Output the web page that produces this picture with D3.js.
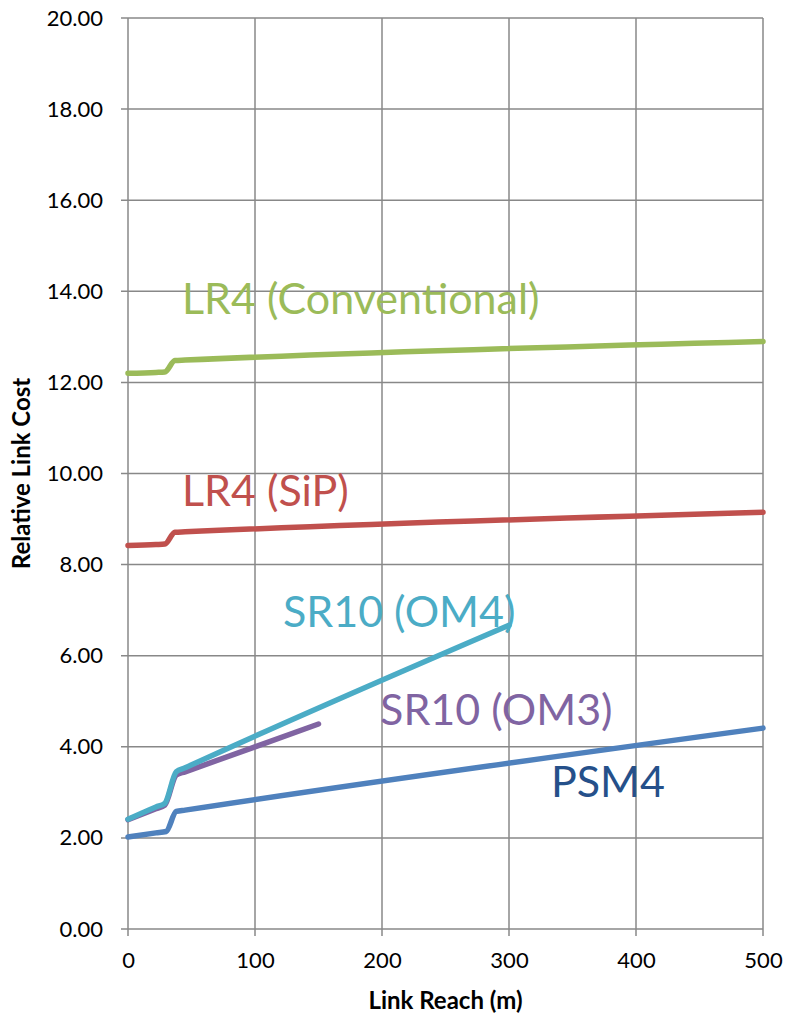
<!DOCTYPE html>
<html>
<head>
<meta charset="utf-8">
<script src="https://cdn.jsdelivr.net/npm/d3@7/dist/d3.min.js"></script>
<style>
  html, body { margin: 0; padding: 0; background: #fff; }
  svg { display: block; }
  text { font-family: Lato, "Open Sans", sans-serif; }
</style>
</head>
<body>
<svg id="chart" width="786" height="1016"></svg>
<script>
// ---- data ----
const xTicks = [0, 100, 200, 300, 400, 500];
const yTicks = [0, 2, 4, 6, 8, 10, 12, 14, 16, 18, 20];
const seriesNames = ["LR4 (Conventional)", "LR4 (SiP)", "SR10 (OM4)", "SR10 (OM3)", "PSM4"];
const lr4ConvReach = [0, 22, 29, 37, 45, 500];
const lr4ConvCost  = [12.20, 12.22, 12.23, 12.48, 12.49, 12.90];
const lr4SiPReach  = [0, 22, 29, 37, 45, 500];
const lr4SiPCost   = [8.42, 8.44, 8.45, 8.71, 8.72, 9.15];
const sr10OM4Reach = [0, 22, 29, 38, 45, 300];
const sr10OM4Cost  = [2.41, 2.68, 2.76, 3.45, 3.54, 6.67];
const sr10OM3Reach = [0, 22, 29, 38, 45, 150];
const sr10OM3Cost  = [2.40, 2.64, 2.72, 3.38, 3.45, 4.50];
const psm4Reach    = [0, 22, 30, 38, 45, 500];
const psm4Cost     = [2.02, 2.11, 2.14, 2.58, 2.61, 4.41];

const lineColors  = ["#9BBB59", "#C0504D", "#4BACC6", "#8064A2", "#4F81BD"];
const labelColors = ["#9BBB59", "#C0504D", "#4BACC6", "#8064A2", "#25508A"];
const drawOrder = [4, 3, 2, 1, 0];

const series = [
  {reach: lr4ConvReach, cost: lr4ConvCost},
  {reach: lr4SiPReach, cost: lr4SiPCost},
  {reach: sr10OM4Reach, cost: sr10OM4Cost},
  {reach: sr10OM3Reach, cost: sr10OM3Cost},
  {reach: psm4Reach, cost: psm4Cost}
].map((s, i) => ({name: seriesNames[i], color: lineColors[i],
  points: s.reach.map((r, j) => ({x: r, y: s.cost[j]}))}));

// label anchor in data units (x = reach, y = cost at baseline)
const labelPos = [
  {x: 42.5, y: 13.50},
  {x: 42.5, y: 9.29},
  {x: 122, y: 6.63},
  {x: 198.5, y: 4.47},
  {x: 333, y: 2.89}
];

// ---- layout ----
const svg = d3.select("#chart");
const mLeft = 128, mRight = 763, mTop = 18, mBottom = 929;
const x = d3.scaleLinear().domain([0, 500]).range([mLeft, mRight]);
const y = d3.scaleLinear().domain([0, 20]).range([mBottom, mTop]);
const gridColor = "#888888";

// gridlines
const g = svg.append("g");
g.selectAll("line.h").data(yTicks).join("line")
  .attr("x1", mLeft - 7).attr("x2", mRight)
  .attr("y1", d => y(d)).attr("y2", d => y(d))
  .attr("stroke", gridColor).attr("stroke-width", 1.5);
g.selectAll("line.v").data(xTicks).join("line")
  .attr("x1", d => x(d)).attr("x2", d => x(d))
  .attr("y1", mTop).attr("y2", mBottom + 7)
  .attr("stroke", gridColor).attr("stroke-width", 1.5);

// axes with d3 axis for labels
const yAxis = svg.append("g").attr("transform", `translate(${mLeft},0)`)
  .call(d3.axisLeft(y).tickValues(yTicks).tickFormat(d3.format(".2f")).tickSize(0).tickPadding(25));
const xAxis = svg.append("g").attr("transform", `translate(0,${mBottom})`)
  .call(d3.axisBottom(x).tickValues(xTicks).tickSize(0).tickPadding(23));
[yAxis, xAxis].forEach(a => {
  a.select(".domain").remove();
  a.selectAll("text").attr("font-size", 22).attr("fill", "#000")
    .style("font-family", "Lato, sans-serif");
});

// lines
const line = d3.line().x(d => x(d.x)).y(d => y(d.y)).curve(d3.curveMonotoneX);
svg.append("g").selectAll("path").data(drawOrder.map(i => series[i])).join("path")
  .attr("d", d => line(d.points))
  .attr("fill", "none")
  .attr("stroke", d => d.color)
  .attr("stroke-width", 5.5)
  .attr("stroke-linecap", "round")
  .attr("stroke-linejoin", "round");

// series labels
svg.append("g").selectAll("text").data(seriesNames).join("text")
  .attr("x", (d, i) => x(labelPos[i].x))
  .attr("y", (d, i) => y(labelPos[i].y))
  .attr("fill", (d, i) => labelColors[i])
  .attr("font-size", 43)
  .text(d => d);

// axis titles
svg.append("text")
  .attr("x", (mLeft + mRight) / 2).attr("y", 1009)
  .attr("text-anchor", "middle").attr("font-weight", "bold").attr("font-size", 24)
  .text("Link Reach (m)");
svg.append("text")
  .attr("transform", `translate(30,${(mTop + mBottom) / 2}) rotate(-90)`)
  .attr("text-anchor", "middle").attr("font-weight", "bold").attr("font-size", 24)
  .text("Relative Link Cost");
</script>
</body>
</html>
